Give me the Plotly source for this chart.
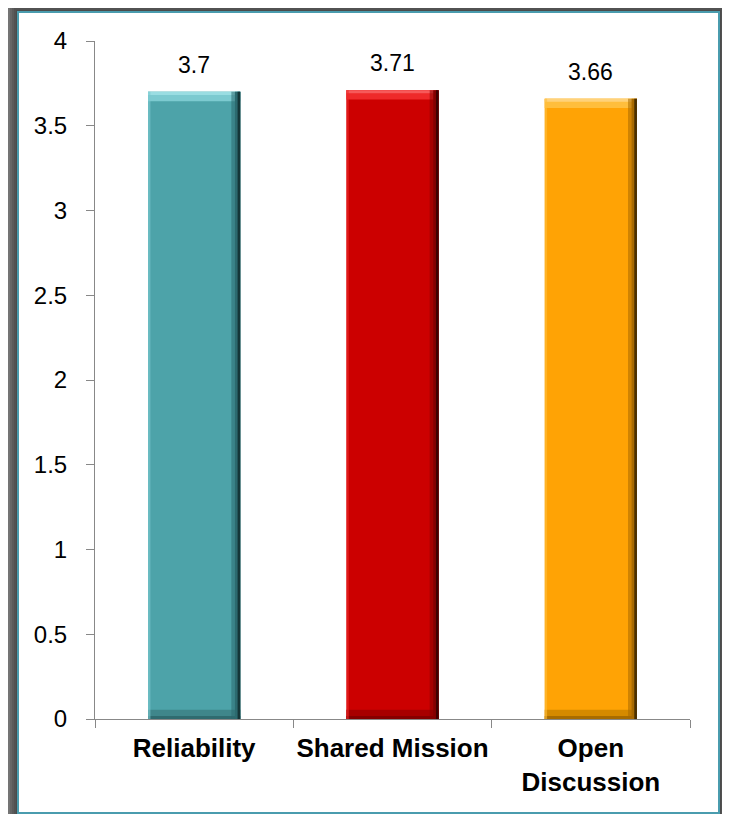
import plotly.graph_objects as go

categories = ["Reliability", "Shared Mission", "Open<br>Discussion"]
values = [3.7, 3.71, 3.66]
labels = ["3.7", "3.71", "3.66"]
main_colors = ["#4DA3A9", "#CC0000", "#FFA305"]
light_colors = ["#7CCAD0", "#EE2A2A", "#FFBE3C"]
lighter_colors = ["#9ADDE2", "#F65A5A", "#FFD27A"]
dark_colors = ["#143638", "#3F0000", "#4A3000"]
mid_dark_colors = ["#2C6A6F", "#850000", "#A86A00"]
bottom_colors = ["#3F868B", "#A80000", "#D58A00"]
bottom_dark_colors = ["#2F6B70", "#860000", "#A86C00"]

W = 0.465
BX = 0.045
BY = 0.055

fig = go.Figure()
n = len(values)

def bar(y, base, width, offset, colors, opacity=1.0):
    kw = dict(x=categories, y=y, base=base, width=width,
              marker=dict(color=colors, line=dict(width=0)), opacity=opacity, hoverinfo="skip")
    if offset is not None:
        kw["offset"] = offset
    fig.add_trace(go.Bar(**kw))

# main bars
bar(values, [0] * n, W, None, main_colors)
# top bevel (light, two steps)
bar([BY] * n, [v - BY for v in values], W, None, light_colors)
bar([BY / 3] * n, [v - BY / 3 for v in values], W, None, lighter_colors)
# bottom bevel (darker, two steps)
bar([BY] * n, [0] * n, W, None, bottom_colors)
bar([BY / 3] * n, [0] * n, W, None, bottom_dark_colors)
# right bevel (gradient)
bar(values, [0] * n, BX, W / 2 - BX, mid_dark_colors, 0.55)
bar(values, [0] * n, BX * 0.6, W / 2 - BX * 0.6, mid_dark_colors)
bar(values, [0] * n, BX * 0.3, W / 2 - BX * 0.3, dark_colors)
# left bevel (slightly lighter)
bar(values, [0] * n, 0.012, -W / 2, light_colors, 0.6)

annotations = [dict(x=c, y=v, text=t, showarrow=False, xref="x", yref="y",
                    yanchor="bottom", yshift=12,
                    font=dict(family="Liberation Sans, Arial", size=23, color="#000000"))
               for c, v, t in zip(categories, values, labels)]

shapes = []
# shadow around frame
for i in range(9):
    d = 2 + i * 2
    shapes.append(dict(type="rect", xref="paper", yref="paper", xsizemode="pixel", ysizemode="pixel",
                       xanchor=0, yanchor=0, x0=-77 - d, x1=624 + d, y0=-94 - d, y1=707 + d,
                       fillcolor="rgba(50,50,50,0.2)", line=dict(width=0), layer="below"))
# white frame with teal border
shapes.append(dict(type="rect", xref="paper", yref="paper", xsizemode="pixel", ysizemode="pixel",
                   xanchor=0, yanchor=0, x0=-77, x1=624, y0=-94, y1=707,
                   fillcolor="#FFFFFF", line=dict(color="#4A9CAE", width=2), layer="below"))

fig.update_layout(
    width=714, height=806,
    margin=dict(l=87, r=32, t=33, b=95),
    paper_bgcolor="#FFFFFF",
    plot_bgcolor="rgba(0,0,0,0)",
    barmode="overlay",
    showlegend=False,
    shapes=shapes,
    annotations=annotations,
    font=dict(family="Liberation Sans, Arial", color="#000000"),
)
fig.update_yaxes(range=[0, 4], dtick=0.5, tick0=0, showgrid=False, zeroline=False,
                 showline=True, linecolor="#888888", linewidth=1, automargin=False,
                 ticks="outside", ticklen=8, tickcolor="#888888",
                 tickfont=dict(size=24, family="Liberation Sans, Arial"), ticklabelstandoff=14)
fig.update_xaxes(showgrid=False, showline=True, linecolor="#888888", linewidth=1, automargin=False,
                 ticks="outside", ticklen=8, tickcolor="#888888", tickson="boundaries", tickangle=0,
                 tickfont=dict(size=26, family="Liberation Sans, Arial"), ticklabelstandoff=6)
fig.update_xaxes(tickvals=categories, ticktext=["<b>" + c + "</b>" for c in categories])

fig.write_html("out.html")
